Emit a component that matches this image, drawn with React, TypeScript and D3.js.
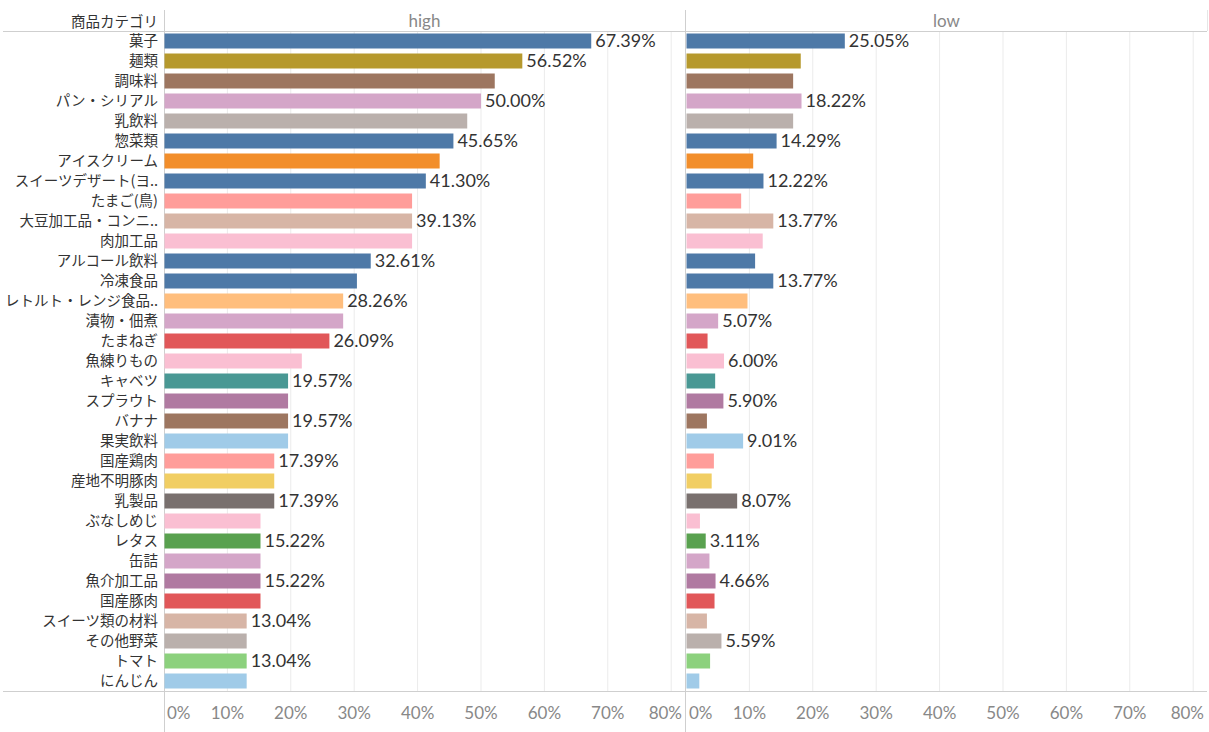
import React from "react";
import * as d3 from "d3";

const categories = [
  "菓子", "麺類", "調味料", "パン・シリアル", "乳飲料", "惣菜類", "アイスクリーム",
  "スイーツデザート(ヨ..", "たまご(鳥)", "大豆加工品・コンニ..", "肉加工品", "アルコール飲料",
  "冷凍食品", "レトルト・レンジ食品..", "漬物・佃煮", "たまねぎ", "魚練りもの", "キャベツ",
  "スプラウト", "バナナ", "果実飲料", "国産鶏肉", "産地不明豚肉", "乳製品", "ぶなしめじ",
  "レタス", "缶詰", "魚介加工品", "国産豚肉", "スイーツ類の材料", "その他野菜", "トマト", "にんじん",
];

const highValues = [
  67.39, 56.52, 52.17, 50.0, 47.83, 45.65, 43.48, 41.3, 39.13, 39.13, 39.13, 32.61,
  30.43, 28.26, 28.26, 26.09, 21.74, 19.57, 19.57, 19.57, 19.57, 17.39, 17.39, 17.39,
  15.22, 15.22, 15.22, 15.22, 15.22, 13.04, 13.04, 13.04, 13.04,
];

const lowValues = [
  25.05, 18.1, 16.9, 18.22, 16.9, 14.29, 10.6, 12.22, 8.7, 13.77, 12.1, 10.9,
  13.77, 9.7, 5.07, 3.4, 6.0, 4.6, 5.9, 3.3, 9.01, 4.4, 4.05, 8.07,
  2.2, 3.11, 3.7, 4.66, 4.5, 3.3, 5.59, 3.8, 2.1,
];

// which rows carry a value label (as shown in the reference)
const highLabeled = [
  1, 1, 0, 1, 0, 1, 0, 1, 0, 1, 0, 1, 0, 1, 0, 1, 0, 1, 0, 1, 0, 1, 0, 1, 0, 1, 0, 1, 0, 1, 0, 1, 0,
];
const lowLabeled = [
  1, 0, 0, 1, 0, 1, 0, 1, 0, 1, 0, 0, 1, 0, 1, 0, 1, 0, 1, 0, 1, 0, 0, 1, 0, 1, 0, 1, 0, 0, 1, 0, 0,
];

const colors = [
  "#4e79a7", "#b6992d", "#9d7660", "#d4a6c8", "#bab0ac", "#4e79a7", "#f28e2b",
  "#4e79a7", "#ff9d9a", "#d7b5a6", "#fabfd2", "#4e79a7", "#4e79a7", "#ffbe7d",
  "#d4a6c8", "#e15759", "#fabfd2", "#499894", "#b07aa1", "#9d7660", "#a0cbe8",
  "#ff9d9a", "#f1ce63", "#79706e", "#fabfd2", "#59a14f", "#d4a6c8", "#b07aa1",
  "#e15759", "#d7b5a6", "#bab0ac", "#8cd17d", "#a0cbe8",
];

const panels = ["high", "low"];
const ticks = [0, 10, 20, 30, 40, 50, 60, 70, 80];

const W = 1209;
const H = 732;
const TOP = 31;
const BOTTOM = 691;
const DOMAIN_MAX = 82.18;
const PANEL_RANGES: [number, number][] = [
  [164, 685],
  [686, 1207],
];

const CJK = "'Noto Sans CJK JP', 'Noto Sans', sans-serif";
const NUM = "Lato, 'Open Sans', sans-serif";

export default function App() {
  const y = d3
    .scaleBand<string>()
    .domain(categories)
    .range([TOP, BOTTOM])
    .paddingInner(0.25)
    .paddingOuter(0.125);

  const scales = PANEL_RANGES.map((r) => d3.scaleLinear().domain([0, DOMAIN_MAX]).range(r));
  const seriesValues = [highValues, lowValues];
  const seriesLabeled = [highLabeled, lowLabeled];

  return (
    <svg
      width={W}
      height={H}
      style={{ position: "absolute", left: 0, top: 0, background: "#fff" }}
    >
      {/* gridlines */}
      {scales.map((x, pi) => (
        <g key={"grid" + pi}>
          {ticks.slice(1).map((t) => (
            <line
              key={t}
              x1={x(t)}
              x2={x(t)}
              y1={TOP}
              y2={BOTTOM}
              stroke="#ebebeb"
              strokeWidth={1}
            />
          ))}
        </g>
      ))}

      {/* header and axis horizontal lines */}
      <line x1={3} x2={1207} y1={TOP + 0.5} y2={TOP + 0.5} stroke="#cfcfcf" />
      <line x1={3} x2={1207} y1={BOTTOM + 0.5} y2={BOTTOM + 0.5} stroke="#cfcfcf" />

      {/* panel dividers */}
      <line x1={164.5} x2={164.5} y1={10} y2={H} stroke="#cfcfcf" />
      <line x1={685.5} x2={685.5} y1={10} y2={H} stroke="#cfcfcf" />
      <line x1={1207.5} x2={1207.5} y1={10} y2={TOP} stroke="#e6e6e6" />

      {/* header */}
      <text
        x={158}
        y={27}
        textAnchor="end"
        fontFamily={CJK}
        fontSize={14.5}
        fill="#333"
      >
        商品カテゴリ
      </text>
      {panels.map((p, pi) => (
        <text
          key={p}
          x={(PANEL_RANGES[pi][0] + PANEL_RANGES[pi][1]) / 2}
          y={27}
          textAnchor="middle"
          fontFamily={NUM}
          fontSize={17}
          fill="#888"
        >
          {p}
        </text>
      ))}

      {/* category labels */}
      {categories.map((c) => (
        <text
          key={c}
          x={158}
          y={(y(c) as number) + y.bandwidth() / 2}
          dy="0.36em"
          textAnchor="end"
          fontFamily={CJK}
          fontSize={14.5}
          fill="#333"
        >
          {c}
        </text>
      ))}

      {/* bars */}
      {scales.map((x, pi) => (
        <g key={"bars" + pi}>
          {categories.map((c, i) => {
            const v = seriesValues[pi][i];
            const x0 = x(0) + 0.5;
            const x1 = x(v);
            const yy = y(c) as number;
            return (
              <g key={c}>
                <rect x={x0} y={yy} width={x1 - x0} height={y.bandwidth()} fill={colors[i]} />
                {seriesLabeled[pi][i] ? (
                  <text
                    x={x1 + 4}
                    y={yy + y.bandwidth() / 2}
                    dy="0.36em"
                    fontFamily={NUM}
                    fontSize={18}
                    fill="#333"
                  >
                    {v.toFixed(2) + "%"}
                  </text>
                ) : null}
              </g>
            );
          })}
        </g>
      ))}

      {/* axis tick labels */}
      {scales.map((x, pi) => (
        <g key={"axis" + pi}>
          {ticks.map((t, ti) => {
            const first = ti === 0;
            const last = ti === ticks.length - 1;
            const [r0, r1] = PANEL_RANGES[pi];
            const tx = first ? r0 + 3 : last ? r1 - 3 : x(t);
            const anchor = first ? "start" : last ? "end" : "middle";
            return (
              <text
                key={t}
                x={tx}
                y={719}
                textAnchor={anchor}
                fontFamily={NUM}
                fontSize={17}
                fill="#888"
              >
                {t + "%"}
              </text>
            );
          })}
        </g>
      ))}
    </svg>
  );
}
